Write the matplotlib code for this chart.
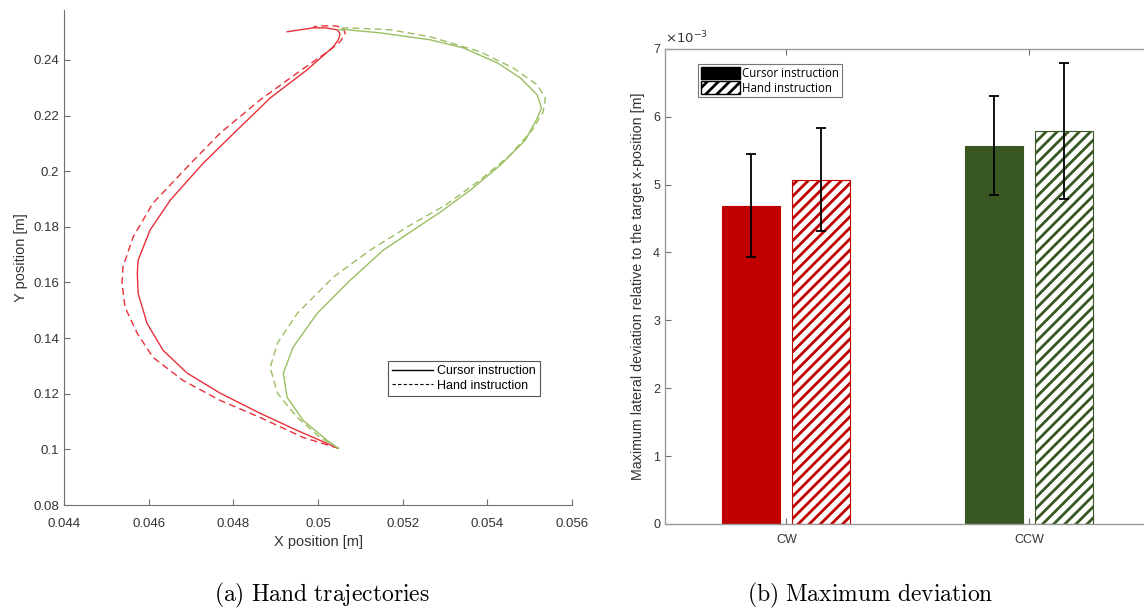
import numpy as np
import matplotlib
matplotlib.use('Agg')
import matplotlib.pyplot as plt
from matplotlib.patches import Patch
from matplotlib.lines import Line2D

plt.rcParams['font.family'] = ['Liberation Sans', 'DejaVu Sans']
plt.rcParams['mathtext.fontset'] = 'cm'
plt.rcParams['hatch.linewidth'] = 2.0

# ---- (a) hand trajectories ----
cw_cursor_x = [0.05048, 0.04951, 0.04863, 0.04769, 0.04691, 0.04634, 0.04596, 0.04575,
               0.04573, 0.04575, 0.04603, 0.04651, 0.04729, 0.04809, 0.04887, 0.04974,
               0.05036, 0.05048, 0.05052, 0.05045, 0.05017, 0.04989, 0.04958, 0.04927]
cw_cursor_y = [0.1004, 0.1068, 0.1130, 0.1202, 0.1274, 0.1356, 0.1453, 0.1561,
               0.1633, 0.1680, 0.1788, 0.1896, 0.2029, 0.2148, 0.2263, 0.2364,
               0.2447, 0.2472, 0.2494, 0.2508, 0.2515, 0.2515, 0.2508, 0.2501]

cw_hand_x = [0.05048, 0.04965, 0.04863, 0.04769, 0.04681, 0.04610, 0.04573, 0.04544,
             0.04537, 0.04539, 0.04563, 0.04610, 0.04691, 0.04769, 0.04863, 0.04951,
             0.05029, 0.05052, 0.05064, 0.05060, 0.05041, 0.05010, 0.04989]
cw_hand_y = [0.1004, 0.1043, 0.1115, 0.1176, 0.1248, 0.1331, 0.1417, 0.1511,
             0.1597, 0.1655, 0.1763, 0.1885, 0.2015, 0.2137, 0.2256, 0.2353,
             0.2436, 0.2465, 0.2494, 0.2515, 0.2522, 0.2522, 0.2519]

ccw_cursor_x = [0.05048, 0.05022, 0.04965, 0.04927, 0.04918, 0.04941, 0.04998, 0.05076,
                0.05154, 0.05218, 0.05289, 0.05360, 0.05431, 0.05490, 0.05518, 0.05528,
                0.05518, 0.05478, 0.05424, 0.05343, 0.05265, 0.05147, 0.05069, 0.05048]
ccw_cursor_y = [0.1004, 0.1032, 0.1104, 0.1187, 0.1274, 0.1367, 0.1489, 0.1608,
                0.1716, 0.1781, 0.1853, 0.1932, 0.2022, 0.2112, 0.2191, 0.2227,
                0.2274, 0.2335, 0.2389, 0.2443, 0.2472, 0.2497, 0.2508, 0.2508]

ccw_hand_x = [0.05048, 0.05005, 0.04951, 0.04904, 0.04887, 0.04904, 0.04951, 0.05036,
              0.05123, 0.05218, 0.05301, 0.05383, 0.05454, 0.05506, 0.05532, 0.05537,
              0.05518, 0.05461, 0.05383, 0.05265, 0.05171, 0.05069, 0.05048]
ccw_hand_y = [0.1004, 0.1043, 0.1115, 0.1202, 0.1295, 0.1382, 0.1489, 0.1619,
              0.1716, 0.1806, 0.1878, 0.1968, 0.2058, 0.2148, 0.2213, 0.2263,
              0.2310, 0.2371, 0.2429, 0.2483, 0.2508, 0.2515, 0.2512]

# ---- (b) maximum deviation (x1e-3 m) ----
directions = ['CW', 'CCW']
cursor_mean = [4.69, 5.57]
cursor_err = [0.76, 0.73]
hand_mean = [5.07, 5.79]
hand_err = [0.76, 1.00]
bar_colors = ['#C00000', '#385723']

traj_red = '#E8303A'
traj_green = '#9ABF62'
axis_gray = '#6e6e6e'
text_gray = '#333333'

fig = plt.figure(figsize=(11.44, 6.10), dpi=100)

# ---------------- left panel ----------------
ax1 = fig.add_axes([0.056, 0.172, 0.444, 0.812])
ax1.plot(cw_cursor_x, cw_cursor_y, color=traj_red, lw=1.0)
ax1.plot(cw_hand_x, cw_hand_y, color=traj_red, lw=1.0, ls=(0, (5, 3)))
ax1.plot(ccw_cursor_x, ccw_cursor_y, color=traj_green, lw=1.0)
ax1.plot(ccw_hand_x, ccw_hand_y, color=traj_green, lw=1.0, ls=(0, (5, 3)))

ax1.set_xlim(0.044, 0.056)
ax1.set_ylim(0.08, 0.258)
ax1.set_xticks(np.arange(0.044, 0.0561, 0.002))
ax1.set_xticklabels(['0.044', '0.046', '0.048', '0.05', '0.052', '0.054', '0.056'])
ax1.set_yticks(np.arange(0.08, 0.241, 0.02))
ax1.set_yticklabels(['0.08', '0.1', '0.12', '0.14', '0.16', '0.18', '0.2', '0.22', '0.24'])
ax1.tick_params(direction='in', length=4, color=axis_gray, labelcolor=text_gray, labelsize=9.5)
ax1.tick_params(axis='x', pad=9)
ax1.spines['top'].set_visible(False)
ax1.spines['right'].set_visible(False)
for s in ['left', 'bottom']:
    ax1.spines[s].set_color(axis_gray)
    ax1.spines[s].set_linewidth(0.8)
ax1.set_xlabel('X position [m]', fontsize=10.5, color=text_gray, labelpad=4)
ax1.set_ylabel('Y position [m]', fontsize=10.5, color=text_gray, labelpad=4)

handles = [Line2D([], [], color='black', lw=1.0),
           Line2D([], [], color='black', lw=0.8, ls=(0, (3, 2)))]
leg1 = ax1.legend(handles, ['Cursor instruction', 'Hand instruction'],
                  loc='lower right', bbox_to_anchor=(0.937, 0.22), borderaxespad=0,
                  fontsize=9, handlelength=3.3, handletextpad=0.3,
                  borderpad=0.35, labelspacing=0.2, fancybox=False, framealpha=1)
leg1.get_frame().set_edgecolor('#555555')
leg1.get_frame().set_linewidth(0.8)

# ---------------- right panel ----------------
ax2 = fig.add_axes([0.5813, 0.141, 0.424, 0.779])
pos = np.arange(1, len(directions) + 1)
width = 0.24
offset = 0.144
for i in range(len(directions)):
    ax2.bar(pos[i] - offset, cursor_mean[i], width, color=bar_colors[i],
            edgecolor=bar_colors[i], lw=0.8)
    ax2.bar(pos[i] + offset, hand_mean[i], width, color='white',
            edgecolor=bar_colors[i], hatch='///', lw=0.8)
ax2.errorbar(pos - offset, cursor_mean, yerr=cursor_err, fmt='none',
             ecolor='black', elinewidth=1.3, capsize=3.5, capthick=1.3)
ax2.errorbar(pos + offset, hand_mean, yerr=hand_err, fmt='none',
             ecolor='black', elinewidth=1.3, capsize=3.5, capthick=1.3)

ax2.set_xlim(0.5, 2.5)
ax2.set_ylim(0, 7)
ax2.set_xticks(pos)
ax2.set_xticklabels(directions)
ax2.set_yticks(range(0, 8))
ax2.tick_params(direction='in', length=4, color=axis_gray, labelcolor=text_gray,
                labelsize=9, top=True, right=True)
ax2.tick_params(axis='x', pad=7)
for s in ax2.spines.values():
    s.set_color('#9a9a9a')
    s.set_linewidth(1.0)
ax2.set_ylabel('Maximum lateral deviation relative to the target x-position [m]',
               fontsize=10.3, color=text_gray, labelpad=6)
ax2.text(0.0, 1.006, r'$\times10^{-3}$', transform=ax2.transAxes, fontsize=9.5,
         color=text_gray, ha='left', va='bottom', family='DejaVu Sans',
         math_fontfamily='dejavusans')

handles2 = [Patch(facecolor='black', edgecolor='black'),
            Patch(facecolor='white', edgecolor='black', hatch='///')]
leg2 = ax2.legend(handles2, ['Cursor instruction', 'Hand instruction'],
                  loc='upper left', bbox_to_anchor=(0.068, 0.968),
                  prop={'family': 'Open Sans', 'size': 8.3},
                  handlelength=3.4, handleheight=1.3, handletextpad=0.15,
                  borderpad=0.25, labelspacing=0.12, borderaxespad=0,
                  fancybox=False, framealpha=1)
leg2.get_frame().set_edgecolor('#777777')
leg2.get_frame().set_linewidth(0.8)

# ---------------- captions ----------------
fig.text(0.281, 0.014, r'$\mathrm{(a)\ Hand\ trajectories}$', fontsize=17,
         ha='center', va='baseline')
fig.text(0.761, 0.014, r'$\mathrm{(b)\ Maximum\ deviation}$', fontsize=17,
         ha='center', va='baseline')

fig.savefig('out.png', dpi=100)
